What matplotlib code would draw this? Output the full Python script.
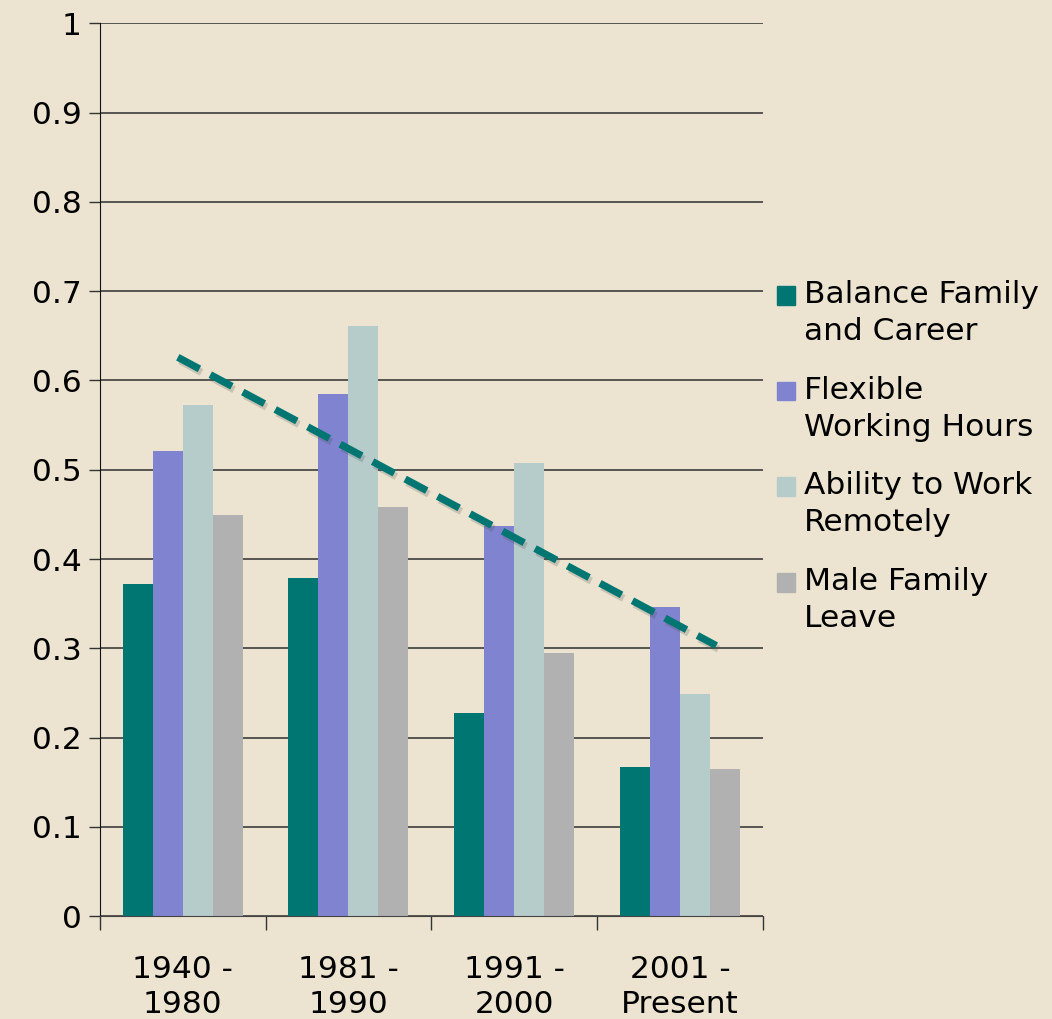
import numpy as np
import matplotlib.pyplot as plt
import matplotlib.patheffects as pe
from matplotlib.patches import Patch, Rectangle
from matplotlib.legend_handler import HandlerPatch

# data
periods = ['1940 -\n1980', '1981 -\n1990', '1991 -\n2000', '2001 -\nPresent']
series_names = ['Balance Family\nand Career', 'Flexible\nWorking Hours',
                'Ability to Work\nRemotely', 'Male Family\nLeave']
balance = [0.372, 0.379, 0.227, 0.167]
flexible = [0.521, 0.585, 0.437, 0.346]
remote = [0.572, 0.661, 0.508, 0.249]
male_leave = [0.449, 0.458, 0.295, 0.165]

# hand-drawn trend line (x in category units)
trend_x = [-0.03, 3.22]
trend_y = [0.626, 0.303]

colors = ['#007672', '#8083D0', '#B6CCCB', '#B1B1B1']
bg = '#ECE4D0'
fs = 22.5

plt.rcParams['font.family'] = ['DejaVu Sans']

fig = plt.figure(figsize=(10.52, 10.19), dpi=100, facecolor=bg)
ax = fig.add_axes([0.095, 0.101, 0.63, 0.876], facecolor=bg)

x = np.arange(len(periods))
w = 0.181
all_series = [balance, flexible, remote, male_leave]
for i, vals in enumerate(all_series):
    ax.bar(x + (i - 1.5) * w, vals, w, color=colors[i], zorder=2)

ax.plot(trend_x, trend_y, color='#007672', lw=5.2, dashes=(3.4, 1.7), zorder=3,
        solid_capstyle='butt',
        path_effects=[pe.SimpleLineShadow(offset=(1.5, -2.5), shadow_color='#4a4a4a', alpha=0.22),
                      pe.Normal()])

ax.set_xlim(-0.5, 3.5)
ax.set_ylim(0, 1)
ax.set_yticks(np.arange(0, 1.01, 0.1))
ax.set_yticklabels(['0', '0.1', '0.2', '0.3', '0.4', '0.5', '0.6', '0.7', '0.8', '0.9', '1'])
ax.yaxis.grid(True, color='#3c3c3c', lw=1.2, zorder=1)
ax.set_axisbelow(True)

ax.set_xticks(x)
ax.set_xticklabels(periods, linespacing=1.25)
ax.set_xticks(np.arange(-0.5, 3.6, 1), minor=True)
ax.tick_params(axis='x', which='major', length=0, pad=28, labelsize=fs)
ax.tick_params(axis='x', which='minor', length=10, width=1, color='#333333')
ax.tick_params(axis='y', length=8, width=1, color='#333333', labelsize=fs, pad=5)

for s in ['top', 'right']:
    ax.spines[s].set_visible(False)
ax.spines['left'].set_color('#111111')
ax.spines['bottom'].set_color('#444444')


# legend squares sit beside the first line of each label
def top_square(legend, orig_handle, xdescent, ydescent, width, height, fontsize):
    return Rectangle((-xdescent, -ydescent + 0.58 * fontsize), width, height)


handles = [Patch(color=c) for c in colors]
leg = fig.legend(handles, series_names, loc='center left', bbox_to_anchor=(0.739, 0.552),
                 frameon=False, fontsize=fs, handlelength=0.55, handleheight=0.55,
                 handletextpad=0.3, labelspacing=0.95, borderpad=0, borderaxespad=0,
                 handler_map={Patch: HandlerPatch(patch_func=top_square)})
for t in leg.get_texts():
    t.set_linespacing(1.35)

fig.savefig('out.png', dpi=100, facecolor=bg)
